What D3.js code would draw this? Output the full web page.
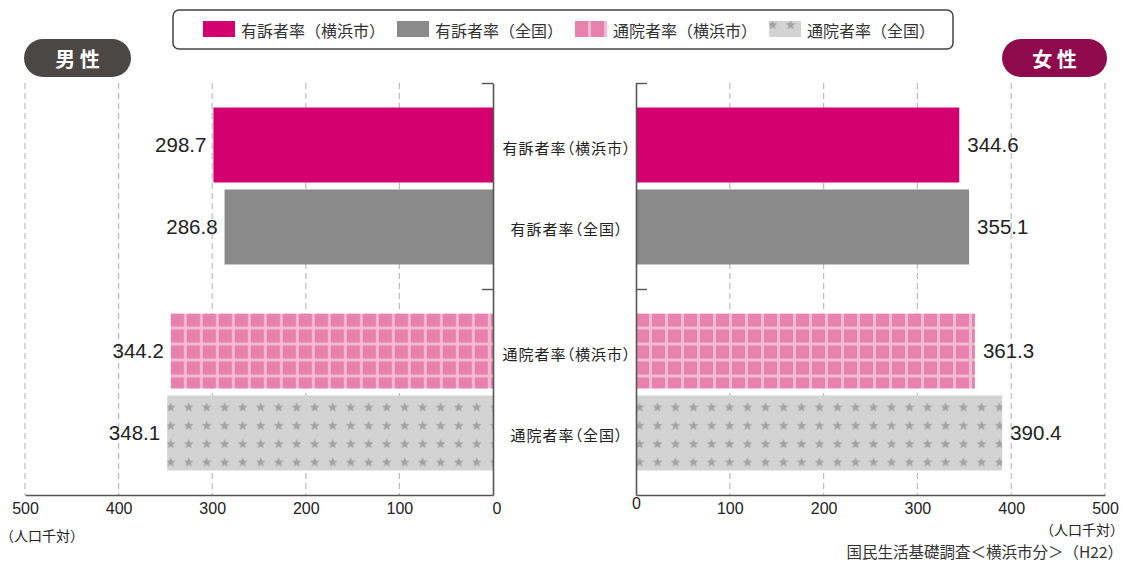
<!DOCTYPE html>
<html><head><meta charset="utf-8">
<script src="https://cdn.jsdelivr.net/npm/d3@7"></script>
<style>body{margin:0;background:#fff}svg{display:block}</style>
</head><body><svg id="c" width="1123" height="562"></svg>
<script>
// ---- data ----
const categories = ["有訴者率（横浜市）","有訴者率（全国）","通院者率（横浜市）","通院者率（全国）"];
const groups = ["有訴者率","通院者率"];
const maleValues = [298.7, 286.8, 344.2, 348.1];
const femaleValues = [344.6, 355.1, 361.3, 390.4];
const xTicks = [0,100,200,300,400,500];
const panelTitles = ["男 性","女 性"];
const unitLabel = "（人口千対）";
const sourceLabel = "国民生活基礎調査＜横浜市分＞（H22）";

// ---- styles ----
const JP = "'Noto Sans CJK JP','Noto Sans',sans-serif";
const NUM = "'Liberation Sans',Arial,'Noto Sans CJK JP',sans-serif";
const C = {magenta:"#d5006f", gray:"#8a8a8a", pink:"#e682ad", pinkLine:"#f4bad2", starBg:"#d3d3d3", star:"#a2a2a2",
  male:"#4b4745", female:"#8e0a4c", axis:"#555", grid:"#bbbbbb", text:"#222"};

const svg = d3.select("#c");
const defs = svg.append("defs");

const plotTop = 83, plotBottom = 495;
const yOuter = d3.scaleBand().domain(groups).range([plotTop,plotBottom]).paddingInner(0.238).paddingOuter(0.119);
const yInner = d3.scaleBand().domain([0,1]).range([0,yOuter.bandwidth()]).paddingInner(0.085);
const yPos = i => yOuter(groups[Math.floor(i/2)]) + yInner(i%2);
const bh = yInner.bandwidth();
const yBound = d3.scaleLinear().domain([0,groups.length]).range([plotTop,plotBottom]);

const xL = d3.scaleLinear().domain([0,500]).range([493,25]);
const xR = d3.scaleLinear().domain([0,500]).range([636,1105]);

function starPath(cx, cy, R, r){
  const pts=[];
  for(let k=0;k<10;k++){
    const a = -Math.PI/2 + k*Math.PI/5;
    const rr = k%2===0?R:r;
    pts.push([cx+rr*Math.cos(a), cy+rr*Math.sin(a)]);
  }
  return "M"+pts.map(p=>p[0].toFixed(2)+","+p[1].toFixed(2)).join("L")+"Z";
}
function gridPattern(id, x, y){
  const p = defs.append("pattern").attr("id",id).attr("patternUnits","userSpaceOnUse")
    .attr("x",x).attr("y",y).attr("width",16).attr("height",16);
  p.append("rect").attr("width",16).attr("height",16).attr("fill",C.pinkLine);
  p.append("rect").attr("width",13).attr("height",13).attr("fill",C.pink);
}
function starPattern(id, x, y){
  const w=18, h=18.3;
  const p = defs.append("pattern").attr("id",id).attr("patternUnits","userSpaceOnUse")
    .attr("x",x).attr("y",y).attr("width",w).attr("height",h);
  p.append("rect").attr("width",w).attr("height",h).attr("fill",C.starBg);
  p.append("path").attr("d",starPath(w/2,h/2+0.5,5.2,2.2)).attr("fill",C.star);
}

function panel(values, x, side){
  const g = svg.append("g");
  g.selectAll("line.grid").data(xTicks.filter(t=>t>0)).join("line")
    .attr("x1",d=>x(d)).attr("x2",d=>x(d)).attr("y1",plotTop).attr("y2",plotBottom)
    .attr("stroke",C.grid).attr("stroke-width",1.2).attr("stroke-dasharray","6,4");
  const bars = values.map((v,i)=>{
    const x0 = Math.min(x(0),x(v)), w = Math.abs(x(v)-x(0)), y0 = yPos(i);
    let fill;
    if(i===0) fill=C.magenta;
    else if(i===1) fill=C.gray;
    else if(i===2){ gridPattern("grid-"+side, x0, y0); fill="url(#grid-"+side+")"; }
    else { starPattern("star-"+side, x0-5.5, y0+12-9.65); fill="url(#star-"+side+")"; }
    return {v,i,x0,w,y0,fill};
  });
  g.selectAll("rect.bar").data(bars).join("rect")
    .attr("x",d=>d.x0).attr("y",d=>d.y0).attr("width",d=>d.w).attr("height",bh).attr("fill",d=>d.fill);
  g.selectAll("text.val").data(bars).join("text")
    .attr("x",d=> side==="L" ? x(d.v)-7 : x(d.v)+8)
    .attr("y",d=>d.y0+bh/2+7)
    .attr("text-anchor", side==="L"?"end":"start")
    .attr("font-family",NUM).attr("font-size",20.5).attr("fill",C.text)
    .text(d=>d.v.toFixed(1));
  const ax = g.append("g").attr("transform",`translate(0,${plotBottom})`)
    .call(d3.axisBottom(x).tickValues(xTicks).tickSize(0).tickSizeOuter(0).tickPadding(8).tickFormat(d3.format("d")));
  ax.select(".domain").attr("stroke",C.axis).attr("stroke-width",1.6);
  ax.selectAll("text").attr("font-family",NUM).attr("font-size",16).attr("fill",C.text);
  ax.selectAll(".tick").filter(d=>d===0).select("text")
    .attr("dx", side==="L"?3.5:0).attr("dy", side==="L"?"0.71em":"0.4em");
  const yax = g.append("g").attr("transform",`translate(${x(0)},0)`)
    .call((side==="L"?d3.axisLeft(yBound):d3.axisRight(yBound)).tickValues([0,1]).tickSize(11).tickSizeOuter(0).tickFormat(""));
  yax.select(".domain").attr("stroke",C.axis).attr("stroke-width",1.6);
  yax.selectAll(".tick line").attr("stroke",C.axis).attr("stroke-width",1.4);
}
panel(maleValues, xL, "L");
panel(femaleValues, xR, "R");

svg.append("g").selectAll("text").data(categories).join("text")
  .attr("x",567).attr("y",(d,i)=>yPos(i)+bh/2+2)
  .attr("dominant-baseline","central").attr("text-anchor","middle")
  .attr("font-family",JP).attr("font-size",15).attr("letter-spacing","1px").attr("fill",C.text)
  .style("font-feature-settings","'palt'")
  .text(d=>d);

const pills = [{t:panelTitles[0],x:24,w:107,c:C.male},{t:panelTitles[1],x:1002,w:105,c:C.female}];
const pg = svg.append("g").selectAll("g").data(pills).join("g");
pg.append("rect").attr("x",d=>d.x).attr("y",39).attr("width",d=>d.w).attr("height",38).attr("rx",19).attr("fill",d=>d.c);
pg.append("text").attr("x",d=>d.x+d.w/2).attr("y",58).attr("dominant-baseline","central").attr("text-anchor","middle")
  .attr("font-family",JP).attr("font-weight","bold").attr("font-size",20).attr("fill","#fff").text(d=>d.t);

defs.append("pattern").attr("id","lg-grid").attr("patternUnits","userSpaceOnUse").attr("x",0).attr("y",0).attr("width",16).attr("height",16)
  .call(p=>{p.append("rect").attr("width",16).attr("height",16).attr("fill",C.pinkLine);p.append("rect").attr("width",13).attr("height",16).attr("fill",C.pink);});
svg.append("rect").attr("x",173).attr("y",10).attr("width",780).attr("height",39).attr("rx",6)
  .attr("fill","#fff").attr("stroke","#444").attr("stroke-width",1.5);
const lg = svg.append("g");
let lx = 203;
const legendFills = [C.magenta, C.gray, "url(#lg-grid)", "url(#lg-star)"];
categories.forEach((c,i)=>{
  if(i===2){ defs.select("#lg-grid").attr("x",lx).attr("y",21); }
  if(i===3){ starPattern("lg-star", lx-5.5, 21+4-9.65); }
  lg.append("rect").attr("x",lx).attr("y",21).attr("width",32).attr("height",16).attr("fill",legendFills[i]);
  const t = lg.append("text").attr("x",lx+38).attr("y",29.5).attr("dominant-baseline","central")
    .attr("font-family",JP).attr("font-size",16).attr("fill","#333").text(c);
  lx += 38 + t.node().getComputedTextLength() + 12;
});

svg.append("text").attr("x",0).attr("y",535).attr("dominant-baseline","central")
  .attr("font-family",JP).attr("font-size",14).attr("fill",C.text).text(unitLabel);
svg.append("text").attr("x",1124).attr("y",529).attr("dominant-baseline","central").attr("text-anchor","end")
  .attr("font-family",JP).attr("font-size",14).attr("fill",C.text).text(unitLabel);
svg.append("text").attr("x",1123).attr("y",551).attr("dominant-baseline","central").attr("text-anchor","end")
  .attr("font-family",JP).attr("font-size",15.5).attr("fill","#333").text(sourceLabel);
</script></body></html>
